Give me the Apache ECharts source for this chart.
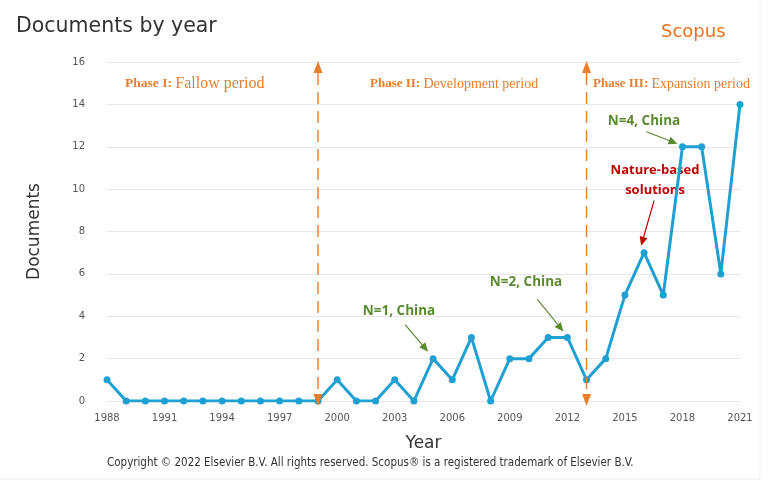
<!DOCTYPE html>
<html><head><meta charset="utf-8">
<script src="https://cdn.jsdelivr.net/npm/echarts@6/dist/echarts.min.js"></script>
<style>html,body{margin:0;padding:0;background:#fff}#c{width:768px;height:485px}</style>
</head><body><div id="c"></div>
<script>
const years = ['1988','1989','1990','1991','1992','1993','1994','1995','1996','1997','1998','1999','2000','2001','2002','2003','2004','2005','2006','2007','2008','2009','2010','2011','2012','2013','2014','2015','2016','2017','2018','2019','2020','2021'];
const documents = [1,0,0,0,0,0,0,0,0,0,0,0,1,0,0,1,0,2,1,3,0,2,2,3,3,1,2,5,7,5,12,12,6,14];
const phaseYears = ['1999','2013'];
const yTicks = {min:0, max:16, interval:2};

const orange = '#e67e2e';
const green = '#5b8a2f';
const red = '#c00000';
const blue = '#1fa0d2';

const chart = echarts.init(document.getElementById('c'));
const option = {
  animation:false,
  backgroundColor:'#fff',
  grid:{left:107, right:28, top:62, bottom:84},
  title:[
    {text:'Documents by year', left:11, top:11, textStyle:{fontFamily:'DejaVu Sans', fontSize:20.5, fontWeight:'normal', color:'#333'}},
    {text:'Scopus', left:656, top:18, textStyle:{fontFamily:'DejaVu Sans', fontSize:18, fontWeight:'normal', color:'#e9711c'}}
  ],
  xAxis:{
    type:'category', data:years, boundaryGap:false,
    name:'Year', nameLocation:'middle', nameGap:34,
    nameTextStyle:{fontFamily:'DejaVu Sans', fontSize:17, color:'#333'},
    axisLine:{show:false}, axisTick:{show:false},
    axisLabel:{interval:2, color:'#555', fontFamily:'DejaVu Sans', fontSize:10, margin:12}
  },
  yAxis:{
    type:'value', min:yTicks.min, max:yTicks.max, interval:yTicks.interval,
    name:'Documents', nameLocation:'middle', nameGap:64,
    nameTextStyle:{fontFamily:'DejaVu Sans', fontSize:17, color:'#333'},
    axisLine:{show:false}, axisTick:{show:false},
    axisLabel:{color:'#555', fontFamily:'DejaVu Sans', fontSize:10, margin:22},
    splitLine:{lineStyle:{color:'#e6e6e6', width:1}}
  },
  series:[{
    type:'line', data:documents, symbol:'circle', symbolSize:7, z:3,
    lineStyle:{color:blue, width:3}, itemStyle:{color:blue}
  }]
};
chart.setOption(option);

function px(year, val){ return chart.convertToPixel({gridIndex:0}, [year, val]); }
function arrowHead(to, ang, color, L, W){
  const bx = to[0]-L*Math.cos(ang), by = to[1]-L*Math.sin(ang);
  const p1 = [bx + W*Math.sin(ang), by - W*Math.cos(ang)];
  const p2 = [bx - W*Math.sin(ang), by + W*Math.cos(ang)];
  return {el:{type:'polygon', z:10, shape:{points:[to,p1,p2]}, style:{fill:color}}, base:[bx,by]};
}
function arrow(from, to, color){
  const ang = Math.atan2(to[1]-from[1], to[0]-from[0]);
  const h = arrowHead(to, ang, color, 9, 4);
  return [
    {type:'line', z:10, shape:{x1:from[0], y1:from[1], x2:h.base[0], y2:h.base[1]}, style:{stroke:color, lineWidth:1.2}},
    h.el
  ];
}
const g = [];
// phase boundary lines (dashed, double arrows), drawn over the series
phaseYears.forEach(y=>{
  const top = px(y, yTicks.max), bot = px(y, yTicks.min);
  const tTip = [top[0], top[1]-1], bTip = [bot[0], bot[1]+5];
  const ht = arrowHead(tTip, -Math.PI/2, orange, 12, 4.5);
  const hb = arrowHead(bTip, Math.PI/2, orange, 12, 4.5);
  g.push({type:'line', z:10, shape:{x1:top[0], y1:ht.base[1], x2:bot[0], y2:hb.base[1]}, style:{stroke:orange, lineWidth:1.4, lineDash:[12,7]}});
  g.push(ht.el, hb.el);
});
const p2005 = px('2005',2), p2012 = px('2012',3), p2018 = px('2018',12), p2016 = px('2016',7);
const annFont = 'bold 13.5px "Open Sans", "DejaVu Sans", sans-serif';
g.push({type:'text', x:399, y:311, style:{text:'N=1, China', font:annFont, fill:green, align:'center', verticalAlign:'middle'}});
g.push(...arrow([p2005[0]-28, p2005[1]-34],[p2005[0]-5, p2005[1]-7], green));
g.push({type:'text', x:526, y:282, style:{text:'N=2, China', font:annFont, fill:green, align:'center', verticalAlign:'middle'}});
g.push(...arrow([p2012[0]-30, p2012[1]-38],[p2012[0]-4, p2012[1]-6], green));
g.push({type:'text', x:644, y:121, style:{text:'N=4, China', font:annFont, fill:green, align:'center', verticalAlign:'middle'}});
g.push(...arrow([p2018[0]-36, p2018[1]-15],[p2018[0]-5, p2018[1]-3], green));
g.push({type:'text', x:655, y:180, style:{text:'Nature-based\nsolutions', font:'bold 13px "Open Sans", "DejaVu Sans", sans-serif', lineHeight:20, fill:red, align:'center', verticalAlign:'middle'}});
g.push(...arrow([p2016[0]+10, p2016[1]-52],[p2016[0]-3, p2016[1]-7], red));
const serifRich = {
  b:{fontFamily:'Liberation Serif', fontWeight:'bold', fontSize:13.5, fill:orange},
  bs:{fontFamily:'Liberation Serif', fontWeight:'bold', fontSize:13, fill:orange},
  n:{fontFamily:'Liberation Serif', fontSize:16, fill:orange},
  ns:{fontFamily:'Liberation Serif', fontSize:14, fill:orange}
};
g.push({type:'text', x:125, y:84, style:{text:'{b|Phase I: }{n|Fallow period}', rich:serifRich, verticalAlign:'middle'}});
g.push({type:'text', x:370, y:84, style:{text:'{bs|Phase II: }{ns|Development period}', rich:serifRich, verticalAlign:'middle'}});
g.push({type:'text', x:593, y:84, style:{text:'{bs|Phase III: }{ns|Expansion period}', rich:serifRich, verticalAlign:'middle'}});
g.push({type:'text', x:107, y:463, style:{text:'Copyright \u00a9 2022 Elsevier B.V. All rights reserved. Scopus\u00ae is a registered trademark of Elsevier B.V.', font:'11.5px "DejaVu Sans Condensed", "DejaVu Sans", sans-serif', fill:'#333', verticalAlign:'middle'}});
g.push({type:'rect', shape:{x:-2, y:-2, width:762, height:481}, style:{fill:'none', stroke:'#ececec', lineWidth:1}, silent:true});
chart.setOption({graphic:g});
</script></body></html>
